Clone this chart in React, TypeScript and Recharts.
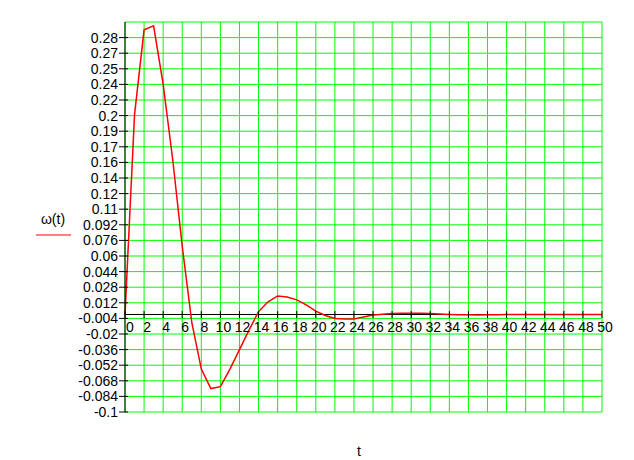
import React from "react";
import {
  LineChart,
  Line,
  XAxis,
  YAxis,
  CartesianGrid,
  ReferenceLine,
} from "recharts";

// time samples and the response
const T = [
  0, 1, 2, 3, 4, 5, 6, 7, 8, 9, 10, 11, 12, 13, 14, 15, 16, 17, 18, 19, 20,
  21, 22, 23, 24, 25, 26, 27, 28, 29, 30, 31, 32, 33, 34, 35, 36, 37, 38, 39,
  40, 41, 42, 43, 44, 45, 46, 47, 48, 49, 50,
];
const OMEGA = [
  0, 0.205, 0.292, 0.296, 0.236, 0.159, 0.07, -0.008, -0.056, -0.076, -0.074,
  -0.056, -0.036, -0.016, 0.003, 0.013, 0.019, 0.018, 0.015, 0.0099, 0.0035,
  -0.001, -0.004, -0.0047, -0.0045, -0.0025, -0.0006, 0.0003, 0.0009, 0.0012,
  0.0013, 0.0012, 0.0009, 0.0005, 0.0001, -0.0002, -0.0003, -0.0004, -0.0003,
  -0.0002, -0.0001, 0, 0.0001, 0.0001, 0.0001, 0.0001, 0.0001, 0.00005, 0, 0, 0,
];

const X_TICKS = [
  0, 2, 4, 6, 8, 10, 12, 14, 16, 18, 20, 22, 24, 26, 28, 30, 32, 34, 36, 38,
  40, 42, 44, 46, 48, 50,
];
const Y_TICKS = [
  -0.1, -0.084, -0.068, -0.052, -0.036, -0.02, -0.004, 0.012, 0.028, 0.044,
  0.06, 0.076, 0.092, 0.108, 0.124, 0.14, 0.156, 0.172, 0.188, 0.204, 0.22,
  0.236, 0.252, 0.268, 0.284,
];
const Y_TICK_LABELS = [
  "-0.1", "-0.084", "-0.068", "-0.052", "-0.036", "-0.02", "-0.004", "0.012",
  "0.028", "0.044", "0.06", "0.076", "0.092", "0.11", "0.12", "0.14", "0.16",
  "0.17", "0.19", "0.2", "0.22", "0.24", "0.25", "0.27", "0.28",
];

const Y_MIN = -0.1;
const Y_MAX = 0.3;

const W = 634;
const H = 460;
const MARGIN = { top: 22, right: 32, left: 65, bottom: 18 };
const Y_AXIS_W = 60;
const X_AXIS_H = 30;
const PLOT_LEFT = MARGIN.left + Y_AXIS_W;
const PLOT_TOP = MARGIN.top;
const PLOT_BOTTOM = H - MARGIN.bottom - X_AXIS_H;
// where t-axis (omega = 0) sits inside the plot
const ZERO_Y =
  PLOT_TOP + ((Y_MAX - 0) / (Y_MAX - Y_MIN)) * (PLOT_BOTTOM - PLOT_TOP);

const FONT = "'Liberation Sans', Arial, sans-serif";
const GRID = "#00ff00";
const RED = "#ff0000";

const data = T.map((t, i) => ({ t, w: OMEGA[i] }));

function XTick(props: any) {
  const { x, payload } = props;
  const v = payload.value as number;
  return (
    <g>
      <line x1={x} x2={x} y1={ZERO_Y - 3.5} y2={ZERO_Y + 3.5} stroke="#000" />
      <text
        x={x + (v === 0 ? 5 : 3)}
        y={ZERO_Y + 17.5}
        textAnchor="middle"
        fontSize={14}
        fontFamily={FONT}
        fill="#000"
      >
        {v}
      </text>
    </g>
  );
}

function YTick(props: any) {
  const { y, payload, index } = props;
  return (
    <g>
      <line x1={PLOT_LEFT - 6} x2={PLOT_LEFT + 3} y1={y} y2={y} stroke="#000" />
      <text
        x={PLOT_LEFT - 7}
        y={y + 5}
        textAnchor="end"
        fontSize={14}
        fontFamily={FONT}
        fill="#000"
      >
        {Y_TICK_LABELS[index] ?? String(payload.value)}
      </text>
    </g>
  );
}

function OmegaLabel() {
  return (
    <g>
      <text
        x={53}
        y={224}
        textAnchor="middle"
        fontSize={14}
        fontFamily={FONT}
        fill="#000"
      >
        ω(t)
      </text>
      <line x1={36} x2={71} y1={235} y2={235} stroke={RED} />
    </g>
  );
}

function TLabel() {
  return (
    <text
      x={359}
      y={456}
      textAnchor="middle"
      fontSize={14}
      fontFamily={FONT}
      fill="#000"
    >
      t
    </text>
  );
}

export default function App() {
  return (
    <div
      style={{
        position: "absolute",
        left: 0,
        top: 0,
        width: W,
        height: H,
        background: "#fff",
      }}
    >
      <LineChart width={W} height={H} data={data} margin={MARGIN}>
        <CartesianGrid stroke={GRID} strokeWidth={1} />
        <XAxis
          type="number"
          dataKey="t"
          domain={[0, 50]}
          ticks={X_TICKS}
          interval={0}
          height={X_AXIS_H}
          axisLine={false}
          tickLine={false}
          tick={<XTick />}
          label={<TLabel />}
        />
        <YAxis
          type="number"
          domain={[Y_MIN, Y_MAX]}
          ticks={Y_TICKS}
          interval={0}
          width={Y_AXIS_W}
          allowDataOverflow
          axisLine={{ stroke: "#000" }}
          tickLine={false}
          tick={<YTick />}
          label={<OmegaLabel />}
        />
        <ReferenceLine y={0} stroke="#000" />
        <Line
          type="linear"
          dataKey="w"
          stroke={RED}
          strokeWidth={1.5}
          dot={false}
          isAnimationActive={false}
        />
      </LineChart>
    </div>
  );
}
